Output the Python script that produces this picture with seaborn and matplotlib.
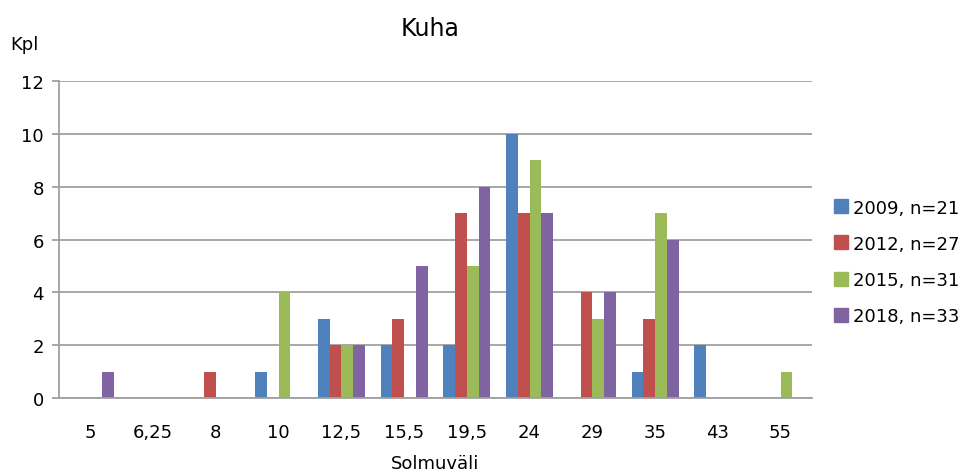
import matplotlib
matplotlib.use("Agg")
import matplotlib.pyplot as plt
from matplotlib.lines import Line2D
import seaborn as sns
import pandas as pd

# Mesh-size classes (mm) and catch counts per survey year
categories = ["5", "6,25", "8", "10", "12,5", "15,5", "19,5", "24", "29", "35", "43", "55"]
series_labels = ["2009, n=21", "2012, n=27", "2015, n=31", "2018, n=33"]
counts_2009 = [0, 0, 0, 1, 3, 2, 2, 10, 0, 1, 2, 0]
counts_2012 = [0, 0, 1, 0, 2, 3, 7, 7, 4, 3, 0, 0]
counts_2015 = [0, 0, 0, 4, 2, 0, 5, 9, 3, 7, 0, 1]
counts_2018 = [1, 0, 0, 0, 2, 5, 8, 7, 4, 6, 0, 0]
y_ticks = [0, 2, 4, 6, 8, 10, 12]

colors = ["#4F81BD", "#C0504D", "#9BBB59", "#8064A2"]

rows = []
for label, vals in zip(series_labels, [counts_2009, counts_2012, counts_2015, counts_2018]):
    for cat, v in zip(categories, vals):
        rows.append({"Solmuväli": cat, "Kpl": v, "Sarja": label})
df = pd.DataFrame(rows)

sns.set_style("white")
plt.rcParams["font.family"] = ["DejaVu Sans"]
plt.rcParams["text.color"] = "black"
plt.rcParams["axes.labelcolor"] = "black"
plt.rcParams["xtick.color"] = "black"
plt.rcParams["ytick.color"] = "black"

fig = plt.figure(figsize=(9.77, 4.77), dpi=100)
ax = fig.add_axes([0.0604, 0.1635, 0.7706, 0.6645])

sns.barplot(data=df, x="Solmuväli", y="Kpl", hue="Sarja", order=categories,
            hue_order=series_labels, palette=colors, width=0.75,
            saturation=1, ax=ax, legend=False, edgecolor="none")

ax.set_ylim(0, 12)
ax.set_xlim(-0.5, len(categories) - 0.5)
ax.set_yticks(y_ticks)
ax.yaxis.grid(True, color="#A0A0A0", linewidth=1.3)
ax.set_axisbelow(True)
for s in ["top", "right"]:
    ax.spines[s].set_visible(False)
for s in ["left", "bottom"]:
    ax.spines[s].set_color("#A0A0A0")
    ax.spines[s].set_linewidth(1.3)
ax.tick_params(axis="y", which="major", length=5, color="#A0A0A0", width=1.3,
               labelsize=13, pad=6, left=True, labelcolor="black")
ax.tick_params(axis="x", length=0, labelsize=13, pad=18, labelcolor="black")
ax.set_xlabel("Solmuväli", fontsize=13, labelpad=9, color="black")
ax.set_ylabel("")

fig.text(0.011, 0.905, "Kpl", fontsize=13, ha="left", va="center", color="black")
fig.text(0.44, 0.94, "Kuha", fontsize=17, ha="center", va="center", color="black")

handles = [Line2D([], [], marker="s", linestyle="none", markersize=10,
                  markerfacecolor=c, markeredgecolor=c) for c in colors]
leg = fig.legend(handles, series_labels, loc="center left", bbox_to_anchor=(0.845, 0.449),
                 frameon=False, fontsize=13, handletextpad=0.2, labelspacing=1.0,
                 handlelength=0.9, borderaxespad=0)
for t in leg.get_texts():
    t.set_color("black")

fig.savefig("out.png", dpi=100)
